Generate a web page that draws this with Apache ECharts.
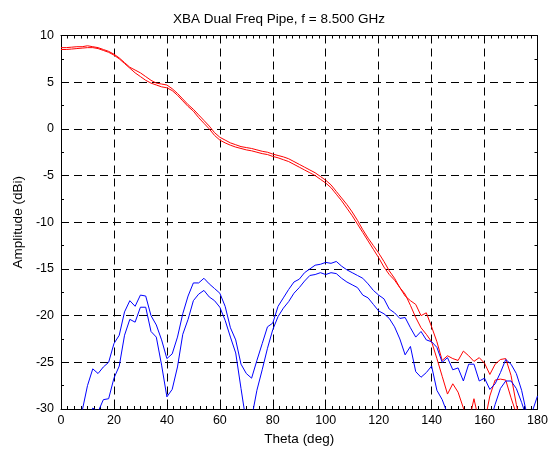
<!DOCTYPE html>
<html><head><meta charset="utf-8">
<script src="https://cdn.jsdelivr.net/npm/echarts@6/dist/echarts.min.js"></script>
<style>html,body{margin:0;padding:0;background:#fff}#c{width:558px;height:451px}</style>
</head><body><div id="c"></div>
<script>
const titleText = 'XBA Dual Freq Pipe, f = 8.500 GHz';
const xName = 'Theta (deg)';
const yName = 'Amplitude (dBi)';
const xTicks = [0, 20, 40, 60, 80, 100, 120, 140, 160, 180];
const yTicks = [-30, -25, -20, -15, -10, -5, 0, 5, 10];

const theta = [0,2,4,6,8,10,12,14,16,18,20,22,24,26,28,30,32,34,36,38,40,42,44,46,48,50,52,54,56,58,60,62,64,66,68,70,72,74,76,78,80,82,84,86,88,90,92,94,96,98,100,102,104,106,108,110,112,114,116,118,120,122,124,126,128,130,132,134,136,138,140,142,144,146,148,150,152,154,156,158,160,162,164,166,168,170,172,174,176,178,180];

const red1 = [8.7,8.7,8.75,8.8,8.8,8.9,8.8,8.7,8.5,8.3,8.0,7.6,7.1,6.6,6.3,6.0,5.6,5.2,4.9,4.8,4.7,4.3,3.8,3.2,2.6,2.1,1.5,0.9,0.3,-0.4,-0.9,-1.2,-1.5,-1.7,-1.9,-2.0,-2.1,-2.25,-2.4,-2.5,-2.7,-2.85,-3.0,-3.2,-3.5,-3.8,-4.1,-4.4,-4.7,-5.1,-5.5,-6.0,-6.7,-7.4,-8.1,-8.9,-9.8,-10.8,-11.7,-12.5,-13.3,-14.2,-15.2,-16.0,-17.0,-17.9,-18.4,-18.8,-20.0,-19.7,-21.2,-22.8,-24.8,-24.3,-24.6,-24.8,-23.8,-24.3,-24.9,-24.5,-25.1,-26.3,-25.2,-24.7,-24.6,-26.4,-29.5,-32,-34,-35,-36];

const red2 = [8.5,8.5,8.55,8.6,8.65,8.7,8.7,8.6,8.4,8.2,7.9,7.5,7.0,6.5,6.0,5.6,5.2,4.9,4.7,4.5,4.4,4.1,3.6,3.0,2.4,1.9,1.2,0.6,0.0,-0.7,-1.2,-1.5,-1.75,-1.95,-2.1,-2.25,-2.35,-2.5,-2.65,-2.75,-2.95,-3.1,-3.3,-3.5,-3.8,-4.1,-4.4,-4.7,-5.0,-5.4,-5.8,-6.3,-7.0,-7.7,-8.5,-9.3,-10.2,-11.1,-12.0,-12.9,-13.8,-14.8,-15.6,-16.2,-17.0,-17.7,-18.9,-20.2,-21.3,-22.0,-22.8,-24.6,-26.5,-28.4,-27.3,-28.2,-29.9,-31.5,-28.9,-31.5,-31.5,-28.6,-26.9,-26.8,-26.9,-28.8,-30.5,-33,-34,-35,-36];

const blue1 = [-38,-37,-36,-33,-30.2,-27.5,-25.7,-26.2,-25.5,-25.0,-23.0,-22.1,-19.6,-18.4,-19.0,-17.8,-17.9,-20.0,-21.0,-22.6,-24.6,-24.1,-22.3,-19.8,-17.9,-16.5,-16.5,-16.0,-16.6,-17.1,-17.6,-19.0,-21.3,-22.6,-25.2,-26.2,-26.7,-24.8,-23.0,-21.2,-20.8,-19.0,-18.1,-17.2,-16.4,-16.1,-15.4,-15.0,-14.6,-14.5,-14.3,-14.4,-14.2,-14.7,-15.1,-15.4,-15.7,-16.0,-16.6,-17.3,-17.8,-18.2,-19.3,-19.7,-20.3,-20.2,-21.3,-22.3,-21.7,-22.6,-22.8,-23.4,-25.0,-24.5,-25.8,-25.6,-27.0,-25.2,-25.2,-27.0,-26.7,-27.9,-27.3,-26.1,-24.7,-25.2,-26.2,-28.0,-30.6,-30.3,-28.6];

const blue2 = [-38,-37,-36,-35,-34,-31.5,-29.9,-30.3,-29.0,-28.9,-26.7,-25.4,-22.1,-20.4,-20.7,-19.1,-19.1,-21.7,-22.3,-25.3,-28.7,-27.9,-25.5,-22.0,-20.4,-18.4,-17.7,-17.3,-18.0,-18.4,-19.1,-20.5,-22.3,-24.0,-27.8,-31.5,-31.0,-28.0,-25.8,-23.5,-21.5,-20.1,-19.2,-18.5,-17.6,-17.0,-16.3,-15.7,-15.6,-15.4,-15.6,-15.4,-15.5,-16.0,-16.4,-16.7,-17.0,-17.8,-18.1,-18.8,-19.5,-19.8,-20.3,-21.2,-22.5,-24.2,-23.3,-26.0,-26.6,-26.1,-25.4,-28.0,-29.0,-30.5,-33,-34,-34,-34,-34,-34,-33,-31.5,-29.5,-27.8,-27.0,-27.0,-27.8,-29.3,-31,-33,-34];

const FONT = '"Liberation Sans", Arial, Helvetica, sans-serif';
const xMin = xTicks[0], xMax = xTicks[xTicks.length - 1], xStep = xTicks[1] - xTicks[0];
const yMin = yTicks[0], yMax = yTicks[yTicks.length - 1], yStep = yTicks[1] - yTicks[0];

function pair(ys) { return theta.map((t, i) => [t, ys[i]]); }

const axisLine = { show: true, onZero: false, lineStyle: { color: '#000', width: 1 } };
const tick = { show: true, inside: true, length: 5, lineStyle: { color: '#000', width: 1 } };
const grid = { show: true, lineStyle: { color: '#000', width: 1, type: [8, 5] } };
const labelStyle = { color: '#000', fontSize: 12.5, fontFamily: FONT };
const nameStyle = { color: '#000', fontSize: 13.5, fontFamily: FONT };

const chart = echarts.init(document.getElementById('c'), null, { renderer: 'canvas' });
chart.setOption({
  animation: false,
  backgroundColor: '#fff',
  title: {
    text: titleText, left: 'center', top: 12, padding: 0,
    textStyle: { color: '#000', fontSize: 13.5, fontWeight: 'normal', fontFamily: FONT }
  },
  grid: { left: 61, right: 20.5, top: 35.5, bottom: 39.5, containLabel: false },
  xAxis: [
    {
      type: 'value', min: xMin, max: xMax, interval: xStep, position: 'bottom',
      axisLine: axisLine, axisTick: tick,
      minorTick: { show: true, splitNumber: 8, length: 3, lineStyle: { color: '#000', width: 1 } },
      axisLabel: Object.assign({ margin: 5 }, labelStyle),
      splitLine: grid,
      name: xName, nameLocation: 'middle', nameGap: 23,
      nameTextStyle: nameStyle
    },
    {
      type: 'value', min: xMin, max: xMax, interval: xStep, position: 'top',
      axisLine: axisLine, axisTick: tick,
      minorTick: { show: true, splitNumber: 8, length: 3, lineStyle: { color: '#000', width: 1 } },
      axisLabel: { show: false }, splitLine: { show: false }
    }
  ],
  yAxis: [
    {
      type: 'value', min: yMin, max: yMax, interval: yStep, position: 'left',
      axisLine: axisLine, axisTick: tick,
      minorTick: { show: true, splitNumber: 2, length: 3, lineStyle: { color: '#000', width: 1 } },
      axisLabel: Object.assign({ margin: 7 }, labelStyle),
      splitLine: grid,
      name: yName, nameLocation: 'middle', nameGap: 33,
      nameTextStyle: nameStyle
    },
    {
      type: 'value', min: yMin, max: yMax, interval: yStep, position: 'right',
      axisLine: axisLine, axisTick: tick,
      minorTick: { show: true, splitNumber: 2, length: 3, lineStyle: { color: '#000', width: 1 } },
      axisLabel: { show: false }, splitLine: { show: false }
    }
  ],
  series: [
    { type: 'line', data: pair(red1), showSymbol: false, clip: true, lineStyle: { color: '#ff0000', width: 1 }, itemStyle: { color: '#ff0000' } },
    { type: 'line', data: pair(red2), showSymbol: false, clip: true, lineStyle: { color: '#ff0000', width: 1 }, itemStyle: { color: '#ff0000' } },
    { type: 'line', data: pair(blue1), showSymbol: false, clip: true, lineStyle: { color: '#0000ff', width: 1 }, itemStyle: { color: '#0000ff' } },
    { type: 'line', data: pair(blue2), showSymbol: false, clip: true, lineStyle: { color: '#0000ff', width: 1 }, itemStyle: { color: '#0000ff' } }
  ]
});
</script>
</body></html>
